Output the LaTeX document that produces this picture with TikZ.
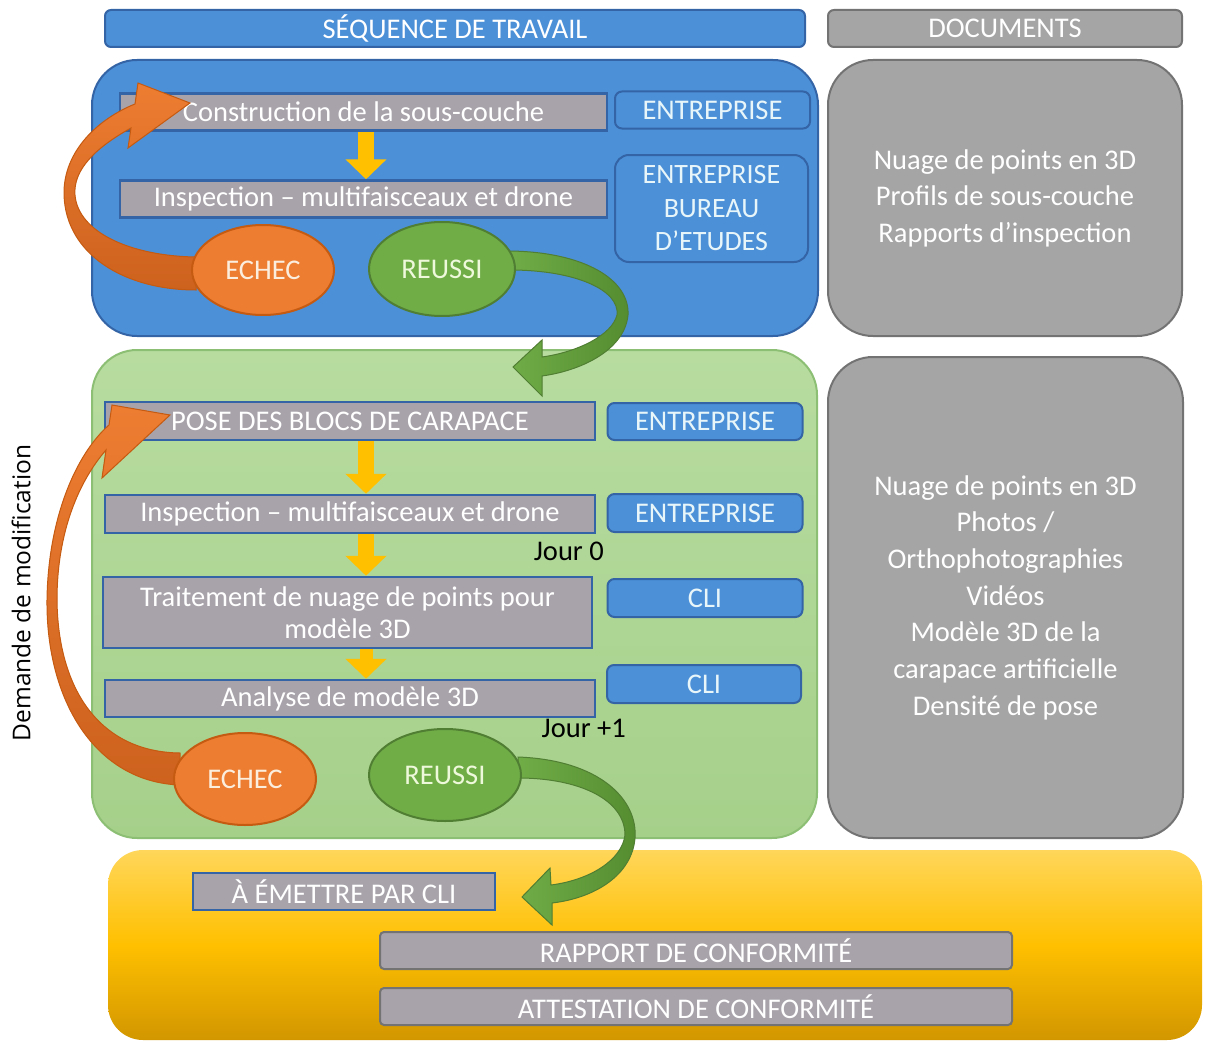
\documentclass[tikz,border=0pt]{standalone}
\usepackage{fontspec}
\setmainfont{Carlito}
\newfontfamily\demfont{Open Sans}
\usetikzlibrary{shapes.geometric,arrows.meta}
\definecolor{colBleu}{RGB}{76,144,216}
\definecolor{colBleuF}{RGB}{52,100,165}
\definecolor{colGris}{RGB}{168,163,170}
\definecolor{colGrisD}{RGB}{165,165,165}
\definecolor{colGrisF}{RGB}{115,115,115}
\definecolor{colVertC}{RGB}{184,220,160}
\definecolor{colVert}{RGB}{165,208,138}
\definecolor{colVertF}{RGB}{140,190,115}
\definecolor{colOrange}{RGB}{237,125,49}
\definecolor{colOrangeF}{RGB}{197,90,17}
\definecolor{colOrangeS}{RGB}{205,98,30}
\definecolor{colVertE}{RGB}{112,173,71}
\definecolor{colVertEF}{RGB}{80,126,50}
\definecolor{colVertS}{RGB}{84,140,48}
\definecolor{colJauneC}{RGB}{255,214,90}
\definecolor{colJaune}{RGB}{255,192,0}
\definecolor{colJauneF}{RGB}{210,150,0}
\tikzset{
  txt/.style={font=\fontsize{28.5}{33}\selectfont},
  entete/.style={txt, rounded corners=6pt, line width=2pt, minimum height=37pt, inner sep=0pt, text=white},
  panneau/.style={rounded corners=45pt, line width=2pt, inner sep=0pt},
  boite/.style={txt, draw=colBleuF, line width=2.5pt, fill=colGris, text=white, minimum height=37pt, inner sep=0pt},
  acteur/.style={txt, rounded corners=7pt, draw=colBleuF, line width=2pt, fill=colBleu, text={rgb,255:red,232;green,246;blue,250}, minimum width=195pt, minimum height=37pt, inner sep=0pt},
  sortie/.style={txt, rounded corners=4pt, draw=colGrisF, line width=2pt, fill=colGris, text=white, minimum width=632pt, minimum height=37pt, inner sep=0pt},
  echec/.style={txt, ellipse, draw=colOrangeF, line width=2pt, fill=colOrange, text={rgb,255:red,252;green,238;blue,222}, inner sep=0pt},
  reussi/.style={txt, ellipse, draw=colVertEF, line width=2pt, fill=colVertE, text={rgb,255:red,238;green,248;blue,218}, inner sep=0pt},
  fleche/.style={draw=colJaune, line width=16pt, -{Triangle[width=40pt,length=20pt]}},
  ruban/.style={top color=colOrange, bottom color=colOrangeS, draw=colOrangeF, line width=1pt},
  rubanv/.style={left color=colVertE, right color=colVertS, draw=colVertEF, line width=1pt},
  jour/.style={txt, text=black, inner sep=0pt}
}
\begin{document}
\begin{tikzpicture}[x=1pt,y=-1pt]
\useasboundingbox (0,0) rectangle (1208,1041);

% en-tetes
\node[entete, fill=colBleu, draw=colBleuF, minimum width=700pt] (seq) at (455,28.5) {SÉQUENCE DE TRAVAIL};
\node[entete, fill=colGrisD, draw=colGrisF, minimum width=354pt] (docs) at (1005,28.5) {DOCUMENTS};

% panneaux
\node[panneau, fill=colBleu, draw=colBleuF, minimum width=726pt, minimum height=276pt] (etapeA) at (455,198) {};
\node[panneau, top color=colVertC, bottom color=colVert, draw=colVertF, minimum width=725pt, minimum height=488pt] (etapeB) at (454.5,594) {};
\node[panneau, rounded corners=35pt, top color=colJauneC, bottom color=colJauneF, middle color=colJaune, minimum width=1094pt, minimum height=190pt] (etapeC) at (655,945) {};
\node[panneau, fill=colGrisD, draw=colGrisF, text=white, align=center, font=\fontsize{28.5}{36.5}\selectfont, minimum width=354pt, minimum height=276pt] (docA) at (1005,198)
  {Nuage de points en 3D\\Profils de sous-couche\\Rapports d’inspection};
\node[panneau, fill=colGrisD, draw=colGrisF, text=white, align=center, font=\fontsize{28.5}{36.7}\selectfont, minimum width=355pt, minimum height=481pt] (docB) at (1005.5,597.5)
  {Nuage de points en 3D\\Photos /\\Orthophotographies\\Vidéos\\Modèle 3D de la\\carapace artificielle\\Densité de pose};

% sous-couche
\node[boite, minimum width=487pt] (constr) at (363.5,112) {Construction de la sous-couche};
\node[boite, minimum width=487pt] (inspA) at (363.5,199) {Inspection – multifaisceaux et drone};
\node[acteur] (entA) at (712.5,110) {ENTREPRISE};
\node[acteur, minimum width=193pt, minimum height=107pt, rounded corners=14pt, align=center, font=\fontsize{28}{33.5}\selectfont] (entBE) at (711.5,208.5) {ENTREPRISE\\BUREAU\\D’ETUDES};

% carapace
\node[boite, minimum width=490pt, minimum height=38pt] (pose) at (350,421) {POSE DES BLOCS DE CARAPACE};
\node[boite, minimum width=490pt, minimum height=38pt] (inspB) at (350,514) {Inspection – multifaisceaux et drone};
\node[boite, minimum width=489pt, minimum height=71pt, align=center, font=\fontsize{28.5}{32}\selectfont] (trait) at (347.5,612.5) {Traitement de nuage de points pour\\modèle 3D};
\node[boite, minimum width=490pt] (analyse) at (350,698.5) {Analyse de modèle 3D};
\node[acteur] (entB) at (705,421.5) {ENTREPRISE};
\node[acteur, minimum height=38pt] (entC) at (705,513) {ENTREPRISE};
\node[acteur, minimum height=38pt] (cliA) at (705,598) {CLI};
\node[acteur, minimum width=194pt, minimum height=38pt] (cliB) at (704,684) {CLI};
\node[jour, anchor=east] (j0) at (604,551) {Jour 0};
\node[jour, anchor=east] (j1) at (626,728) {Jour +1};

% conformite
\node[boite, minimum width=302pt] (emettre) at (344,891.5) {À ÉMETTRE PAR CLI};
\node[sortie] (rapport) at (696,950.5) {RAPPORT DE CONFORMITÉ};
\node[sortie] (attest) at (696,1006.5) {ATTESTATION DE CONFORMITÉ};

\node[rotate=90, font=\demfont\fontsize{24.5}{28}\selectfont] (dem) at (21,593) {Demande de modification};

% rubans
\path[ruban] (196,290) .. controls (125,290) and (66,255) .. (64,195) .. controls (63,150) and (100,118) .. (135,104) -- (138,83) -- (190,103) -- (128,148) -- (131,128) .. controls (95,148) and (73,170) .. (75,195) .. controls (78,232) and (130,256) .. (196,257) -- cycle;
\path[ruban] (180,785) .. controls (95,782) and (46,700) .. (47,600) .. controls (48,520) and (75,455) .. (109,425) -- (112,405) -- (170,415) -- (102,478) -- (106,450) .. controls (80,480) and (57,530) .. (57,600) .. controls (58,690) and (100,752) .. (180,753) -- cycle;
\path[rubanv] (510,251) .. controls (585,252) and (630,280) .. (628,315) .. controls (625,348) and (585,370) .. (542,376) -- (542,396) -- (513,367) -- (542,340) -- (542,357) .. controls (578,352) and (612,335) .. (617,315) .. controls (620,290) and (575,270) .. (510,270) -- cycle;
\path[rubanv] (518,757) .. controls (600,760) and (638,800) .. (635,838) .. controls (632,875) and (595,898) .. (552,903) -- (552,925) -- (522,897) -- (550,868) -- (551,885) .. controls (590,880) and (622,860) .. (625,835) .. controls (625,800) and (580,778) .. (518,778) -- cycle;

\node[echec, minimum width=142pt, minimum height=90pt] (echecA) at (263,270) {ECHEC};
\node[reussi, minimum width=146pt, minimum height=94pt] (reussiA) at (442,269) {REUSSI};
\node[echec, minimum width=142pt, minimum height=92pt] (echecB) at (245,779) {ECHEC};
\node[reussi, minimum width=152pt, minimum height=92pt] (reussiB) at (445,775) {REUSSI};

% fleches
\draw[fleche] ([xshift=2.5pt]constr.south) -- ([xshift=2.5pt]inspA.north);
\draw[fleche] ([xshift=16pt]pose.south) -- ([xshift=16pt]inspB.north);
\draw[fleche] ([xshift=16pt]inspB.south) -- ([xshift=18.5pt]trait.north);
\draw[fleche, line width=13pt] ([xshift=18.5pt]trait.south) -- ([xshift=16pt]analyse.north);
\end{tikzpicture}
\end{document}
